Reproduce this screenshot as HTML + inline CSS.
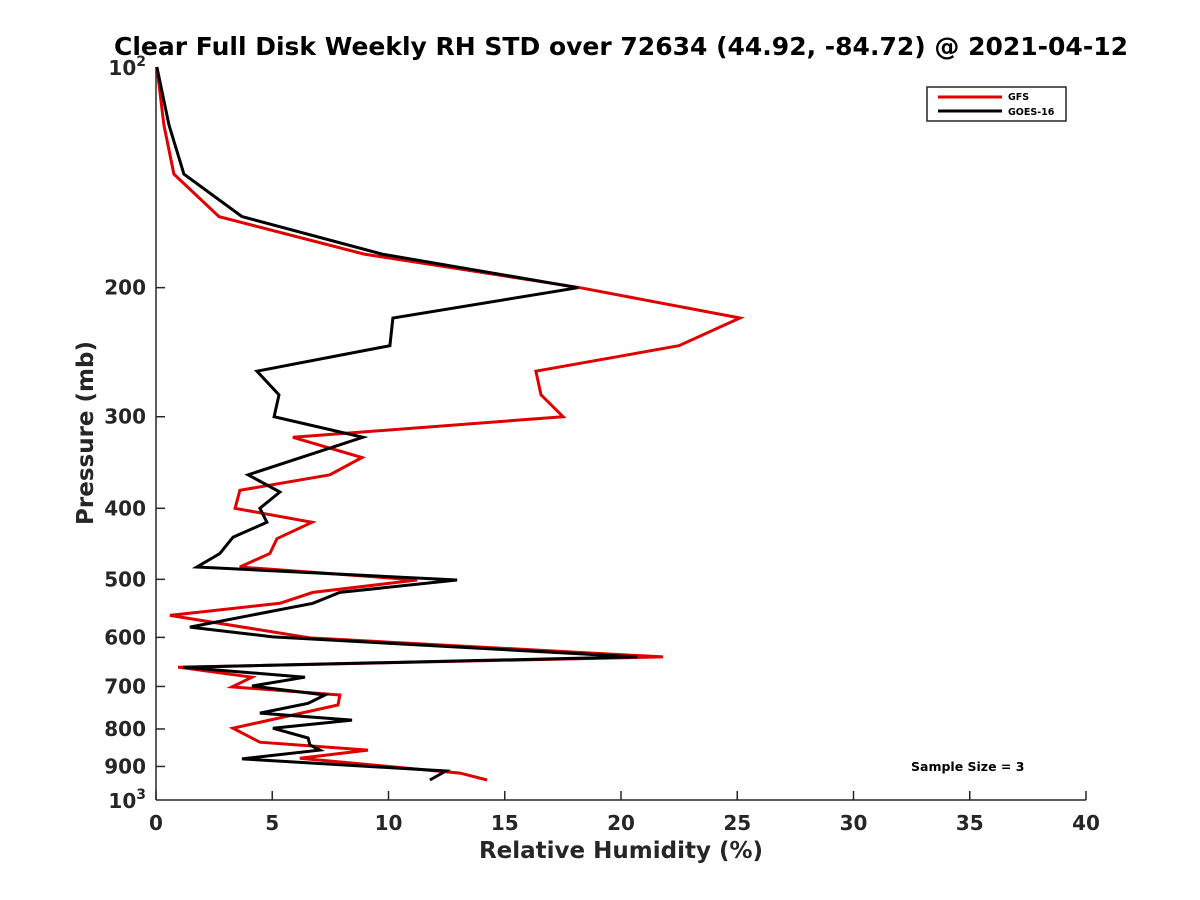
<!DOCTYPE html>
<html><head><meta charset="utf-8"><style>
body{margin:0;background:#fff;}
svg{display:block;font-family:"DejaVu Sans","Liberation Sans",sans-serif;font-weight:bold;}
</style></head><body>
<svg id="chart" width="1200" height="900" viewBox="0 0 1200 900">
<rect width="1200" height="900" fill="#fff"/>
<text x="621" y="55" font-size="25" text-anchor="middle" fill="#000">Clear Full Disk Weekly RH STD over 72634 (44.92, -84.72) @ 2021-04-12</text>
<g id="axes"></g>
<g id="series"></g>
<text x="621" y="858" font-size="23" text-anchor="middle" fill="#262626">Relative Humidity (%)</text>
<text transform="translate(93,433) rotate(-90)" font-size="23" text-anchor="middle" fill="#262626">Pressure (mb)</text>
<g>
<rect x="927" y="87" width="139" height="34" fill="#fff" stroke="#262626" stroke-width="1.5"/>
<line x1="938" y1="97" x2="1002" y2="97" stroke="#e00000" stroke-width="3"/>
<text x="1008" y="100" font-size="9.5">GFS</text>
<line x1="938" y1="111" x2="1002" y2="111" stroke="#000" stroke-width="3"/>
<text x="1008" y="115" font-size="9.5">GOES-16</text>
</g>
<text x="911" y="771" font-size="12.5">Sample Size = 3</text>
</svg>
<script>
const xTicks=[0,5,10,15,20,25,30,35,40];
const yTicks=[200,300,400,500,600,700,800,900];
const gfsP=[100,120,140,160,180,200,220,240,260,280,300,320,341,360,378,400,418,440,461,481,501,521,539,560,601,638,659,680,701,719,742,798,834,855,877,919,939];
const gfsV=[0.04,0.34,0.77,2.71,8.95,18.24,25.12,22.49,16.34,16.56,17.51,5.89,8.86,7.48,3.61,3.40,6.71,5.20,4.90,3.61,11.23,6.75,5.33,0.60,6.62,21.81,0.95,4.13,3.27,7.91,7.83,3.31,4.47,9.12,6.19,13.08,14.24];
const goesP=[100,120,140,160,180,200,220,240,260,280,300,320,360,380,400,418,438,461,481,501,521,539,581,599,638,659,680,699,719,738,761,778,798,823,841,855,879,913,939];
const goesV=[0.04,0.56,1.20,3.70,9.72,18.15,10.19,10.06,4.34,5.29,5.08,8.90,3.96,5.33,4.47,4.77,3.31,2.75,1.76,12.95,7.91,6.75,1.46,5.03,20.69,1.16,6.41,4.13,7.27,6.54,4.47,8.43,5.03,6.54,6.62,7.05,3.70,12.47,11.78];
const X0=156,X1=1086,Y0=67,Y1=800;
const xs=v=>X0+(v/40)*(X1-X0);
const ys=p=>Y0+(Math.log10(p)-2)*(Y1-Y0);
const NS="http://www.w3.org/2000/svg";
const axes=document.getElementById('axes'),series=document.getElementById('series');
function mk(t,a,parent){const e=document.createElementNS(NS,t);for(const k in a)e.setAttribute(k,a[k]);parent.appendChild(e);return e;}
let e=mk('line',{x1:X0,y1:Y0,x2:X0,y2:Y1,stroke:'#262626','stroke-width':1.5},axes);


e=mk('line',{x1:X0,y1:Y1,x2:X1,y2:Y1,stroke:'#262626','stroke-width':1.5},axes);


xTicks.forEach(v=>{
  const x=xs(v);
  const t=mk('line',{x1:x,y1:Y1,x2:x,y2:Y1-9,stroke:'#262626','stroke-width':1.5},axes);
  
  
  const l=mk('text',{x:x,y:Y1+30,'font-size':20,'text-anchor':'middle',fill:'#262626'},axes);
  l.textContent=v;
  
  
});
yTicks.forEach(p=>{
  const y=ys(p);
  const t=mk('line',{x1:X0,y1:y,x2:X0+9,y2:y,stroke:'#262626','stroke-width':1.5},axes);
  
  
  const l=mk('text',{x:X0-10,y:y+7,'font-size':20,'text-anchor':'end',fill:'#262626'},axes);
  l.textContent=p;
  
  
});
[[100,'2'],[1000,'3']].forEach(([p,s])=>{
  const y=ys(p);
  const l=mk('text',{x:X0-10,y:y+8,'font-size':20,'text-anchor':'end',fill:'#262626'},axes);
  l.innerHTML='10<tspan dy="-9" font-size="14">'+s+'</tspan>';
  
  
});
function draw(P,V,color,name){
  const pts=P.map((p,i)=>xs(V[i]).toFixed(1)+','+ys(p).toFixed(1)).join(' ');
  const pl=mk('polyline',{points:pts,fill:'none',stroke:color,'stroke-width':3,'stroke-linejoin':'miter'},series);
  
  
}
draw(gfsP,gfsV,'#e00000','gfs-line');
draw(goesP,goesV,'#000','goes16-line');
</script>
</body></html>
